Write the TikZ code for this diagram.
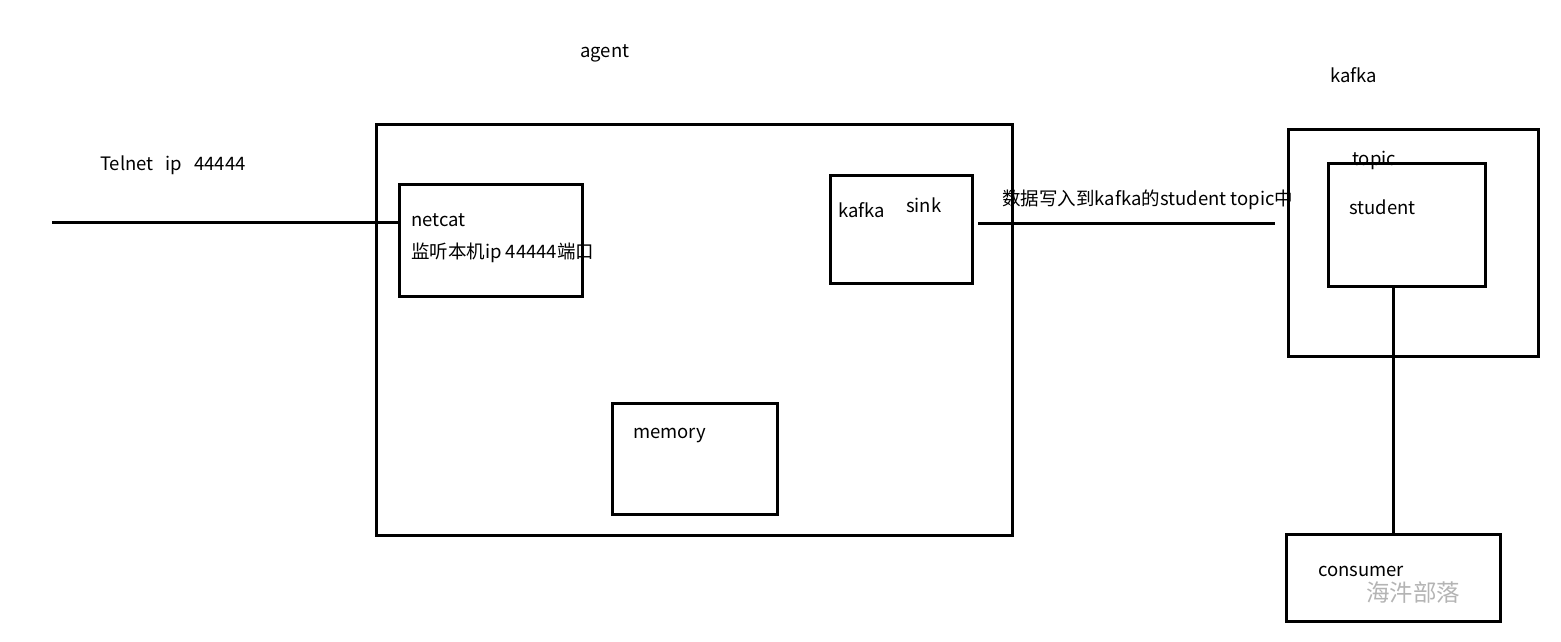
\documentclass[tikz,border=0pt]{standalone}
\usepackage{fontspec}
\setmainfont{Noto Sans CJK SC}
\usepackage{tikz}
\usetikzlibrary{positioning}
\definecolor{wmgray}{HTML}{B4B4B4}

\begin{document}
\begin{tikzpicture}[
  x=1pt, y=-1pt,
  box/.style={draw, line width=3pt, rectangle, inner sep=0pt},
  lbl/.style={anchor=base west, inner sep=0pt, font=\fontsize{18.5}{22}\selectfont},
  wire/.style={line width=3pt}
]
\useasboundingbox (0,0) rectangle (1561,641);

% agent side
\node[box, minimum width=636pt, minimum height=411pt] (agent) at (694,329.5) {};
\node[box, minimum width=183pt, minimum height=112pt] (netcat) at (490.5,240) {};
\node[box, minimum width=165pt, minimum height=111pt] (memory) at (694.5,458.5) {};
\node[box, minimum width=142pt, minimum height=108pt] (sink) at (901,229) {};

% kafka side
\node[box, minimum width=250pt, minimum height=227pt] (kafka) at (1413,242.5) {};
\node[box, minimum width=157pt, minimum height=123pt] (student) at (1406.5,224.5) {};
\node[box, minimum width=214pt, minimum height=87pt] (consumer) at (1393,577.5) {};

\coordinate (telnet) at (52,222);
\coordinate (sinkout) at (978,223);
\coordinate (kafkain) at (1275,223);

\draw[wire] (telnet) -- (netcat.west |- telnet);
\draw[wire] (sinkout) -- (kafkain);
\draw[wire] (student.south -| consumer.north) -- (consumer.north);

% labels
\node[lbl] (agentlbl) at (580,57) {agent};
\node[lbl] (kafkalbl) at (1330,82) {kafka};
\node[lbl] (telnetlbl) at (100,170) {Telnet\hspace{12pt}ip\hspace{12pt}44444};
\node[lbl] (netcatlbl) at (411,226) {netcat};
\node[lbl] (listenlbl) at (411,258) {监听本机ip 44444端口};
\node[lbl] (memlbl) at (633,438) {memory};
\node[lbl] (kafkasink) at (838,217) {kafka};
\node[lbl] (sinklbl) at (906,212) {sink};
\node[lbl] (writelbl) at (1002,205) {数据写入到kafka的student topic中};
\node[lbl] (topiclbl) at (1352,165) {topic};
\node[lbl] (studentlbl) at (1349,214) {student};
\node[lbl] (consumerlbl) at (1318,576) {consumer};
\node[lbl, font=\fontsize{23.5}{26}\selectfont, text=wmgray] (mark) at (1366,601) {海汼部落};
\end{tikzpicture}
\end{document}
